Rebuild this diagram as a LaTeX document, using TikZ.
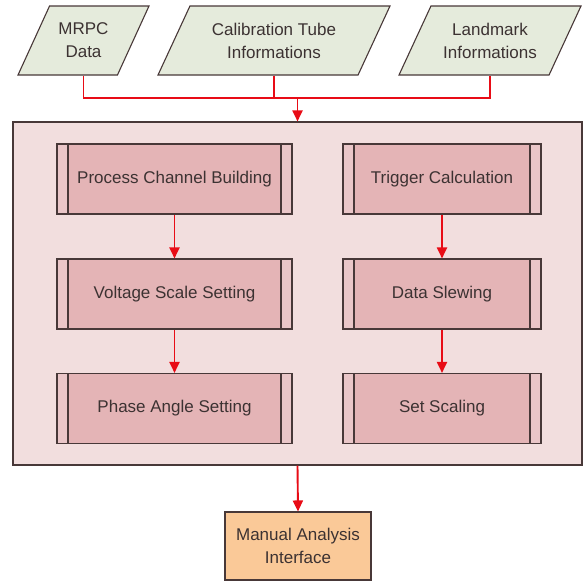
\documentclass[tikz,border=0pt]{standalone}
\usepackage{fontspec}
\setmainfont{Liberation Sans}
\usetikzlibrary{shapes.geometric,arrows.meta}
\definecolor{paragreen}{RGB}{229,235,220}
\definecolor{outerpink}{RGB}{242,222,222}
\definecolor{procpink}{RGB}{228,180,182}
\definecolor{sidepink}{RGB}{234,198,200}
\definecolor{manorange}{RGB}{250,201,152}
\definecolor{edgegray}{RGB}{72,56,56}
\definecolor{txtgray}{RGB}{60,50,50}
\definecolor{flowred}{RGB}{232,12,22}

\tikzset{
  txt/.style={font=\fontsize{17}{23}\selectfont, text=txtgray, align=center},
  datain/.style={txt, trapezium, trapezium left angle=48, trapezium right angle=132,
    trapezium stretches body, draw=edgegray, fill=paragreen, line width=1.1pt,
    minimum height=69pt, inner sep=0pt},
  outer/.style={draw=edgegray, fill=outerpink, line width=1.1pt, inner sep=0pt,
    minimum width=569pt, minimum height=343pt},
  procbox/.style={txt, draw=edgegray, fill=procpink, line width=1.1pt, inner sep=0pt,
    minimum height=70pt,
    path picture={
      \fill[sidepink] (path picture bounding box.north west) rectangle ([xshift=11pt]path picture bounding box.south west);
      \fill[sidepink] (path picture bounding box.north east) rectangle ([xshift=-11pt]path picture bounding box.south east);
      \draw[edgegray, line width=1.1pt] ([xshift=11pt]path picture bounding box.north west) -- ([xshift=11pt]path picture bounding box.south west);
      \draw[edgegray, line width=1.1pt] ([xshift=-11pt]path picture bounding box.north east) -- ([xshift=-11pt]path picture bounding box.south east);
    }},
  manbox/.style={txt, draw=edgegray, fill=manorange, line width=1.1pt, inner sep=0pt,
    minimum width=146pt, minimum height=68pt},
  feed/.style={flowred, line width=1.9pt},
  flow/.style={feed, -{Triangle[width=10pt,length=11pt]}}
}

\begin{document}
\begin{tikzpicture}[x=1pt,y=-1pt]
\useasboundingbox (0,0) rectangle (583,582);

% inputs
\node[datain, minimum width=131pt] (mrpc) at (83.5,40.5) {MRPC\\Data};
\node[datain, minimum width=232pt] (calib) at (274,40.5) {Calibration Tube\\Informations};
\node[datain, minimum width=182pt] (land) at (490,40.5) {Landmark\\Informations};

% processing block
\node[outer] (main) at (297.5,293.5) {};
\node[procbox, minimum width=235pt] (chan) at (174.5,179) {Process Channel Building};
\node[procbox, minimum width=235pt] (volt) at (174.5,294) {Voltage Scale Setting};
\node[procbox, minimum width=235pt] (phase) at (174.5,408.5) {Phase Angle Setting};
\node[procbox, minimum width=198pt] (trig) at (442,179) {Trigger Calculation};
\node[procbox, minimum width=198pt] (slew) at (442,294) {Data Slewing};
\node[procbox, minimum width=198pt] (scal) at (442,408.5) {Set Scaling};

\node[manbox] (manual) at (298,546) {Manual Analysis\\Interface};

% connectors
\coordinate (join) at (main.north |- 0,98);
\draw[feed] (mrpc.south) -- (mrpc.south |- join) -- (land.south |- join) -- (land.south);
\draw[feed] (calib.south) -- (calib.south |- join);
\draw[flow] (join) -- (main.north);
\foreach \a/\b in {chan/volt,volt/phase,trig/slew,slew/scal}
  \draw[flow] (\a.south) -- (\b.north);
\draw[flow] (main.south) -- (manual.north);

\end{tikzpicture}
\end{document}
